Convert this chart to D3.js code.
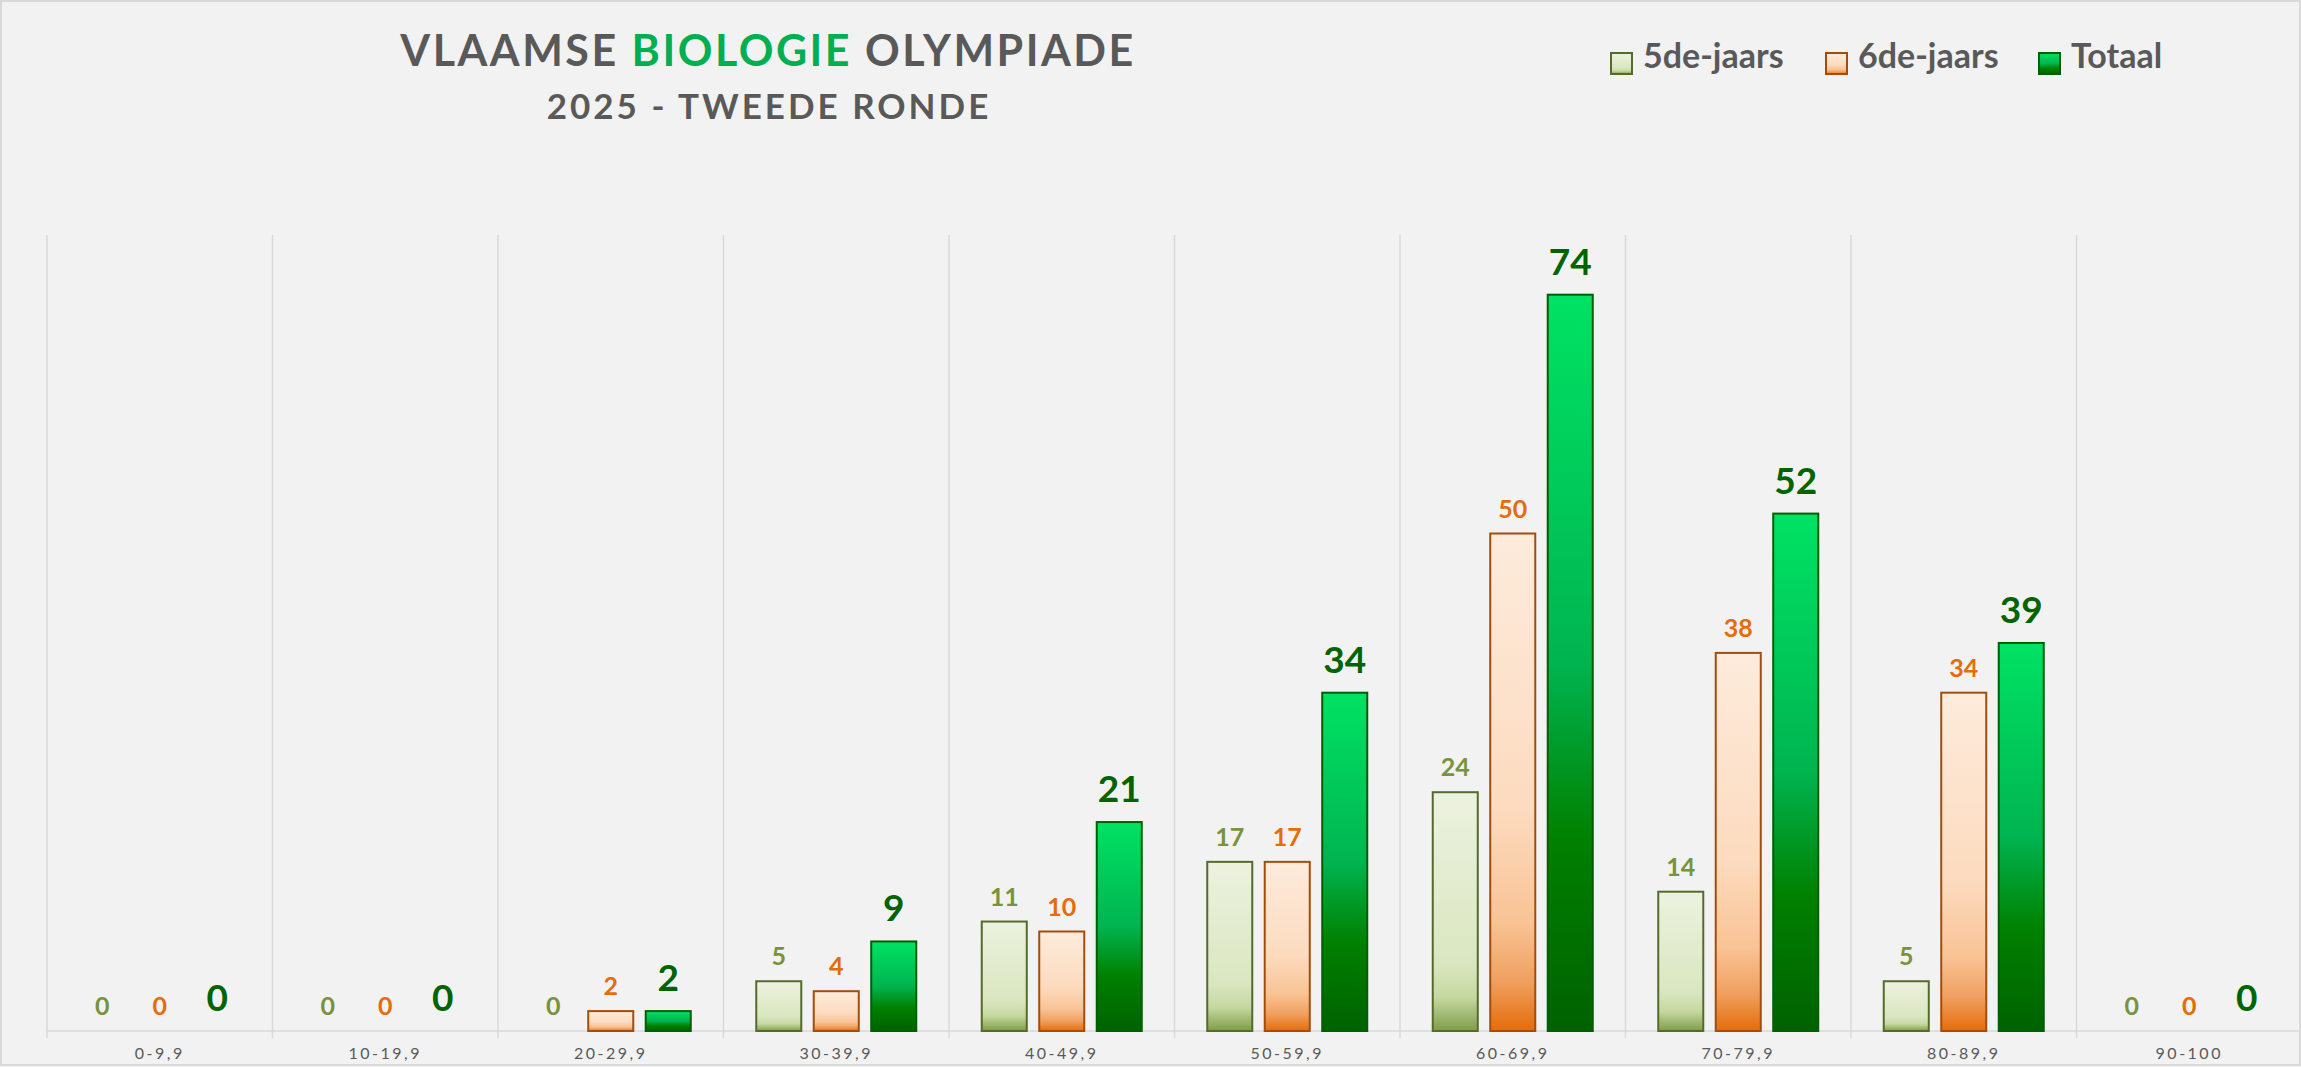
<!DOCTYPE html>
<html>
<head>
<meta charset="utf-8">
<script src="https://cdn.jsdelivr.net/npm/d3@7"></script>
<style>
  html, body { margin: 0; padding: 0; background: #f2f2f2; }
  svg { display: block; font-family: Lato, "Open Sans", sans-serif; }
</style>
</head>
<body>
<div id="chart"></div>
<script>
// ---- data ----
const categories = ['0-9,9', '10-19,9', '20-29,9', '30-39,9', '40-49,9', '50-59,9', '60-69,9', '70-79,9', '80-89,9', '90-100'];
const series = ['5de-jaars', '6de-jaars', 'Totaal'];
const vijfde = [0, 0, 0, 5, 11, 17, 24, 14, 5, 0];
const zesde = [0, 0, 2, 4, 10, 17, 50, 38, 34, 0];
const totaal = [0, 0, 2, 9, 21, 34, 74, 52, 39, 0];
const yMax = 80;

const W = 2301, H = 1067;
const plotLeft = 47, plotRight = 2302, plotTop = 235, base = 1031;

const svg = d3.select('#chart').append('svg').attr('width', W).attr('height', H);

// gradients, one per series
const defs = svg.append('defs');
const grads = {
  '5de-jaars': [[0, '#ecf2e0'], [0.72, '#dae6c0'], [0.86, '#c6d8a0'], [1, '#7f9c48']],
  '6de-jaars': [[0, '#fdebdc'], [0.55, '#fcdbbf'], [0.78, '#f9c395'], [0.9, '#f0a060'], [1, '#e46c0a']],
  'Totaal': [[0, '#00e264'], [0.5, '#00b450'], [0.74, '#008000'], [1, '#006200']]
};
const gid = {'5de-jaars': 'g5', '6de-jaars': 'g6', 'Totaal': 'gt'};
Object.keys(grads).forEach(k => {
  const lg = defs.append('linearGradient').attr('id', gid[k])
    .attr('x1', 0).attr('y1', 0).attr('x2', 0).attr('y2', 1);
  grads[k].forEach(s => lg.append('stop').attr('offset', s[0]).attr('stop-color', s[1]));
});
const strokes = {'5de-jaars': '#556b2a', '6de-jaars': '#a24d0c', 'Totaal': '#006000'};
const labelColor = {'5de-jaars': '#77933c', '6de-jaars': '#e46c0a', 'Totaal': '#006400'};
const labelSize = {'5de-jaars': 25, '6de-jaars': 25, 'Totaal': 37};

// background + border
svg.append('rect').attr('x', 1).attr('y', 1).attr('width', W - 2).attr('height', H - 3)
  .attr('fill', '#f2f2f2').attr('stroke', '#d9d9d9').attr('stroke-width', 2);

const x0 = d3.scaleBand().domain(categories).range([plotLeft, plotRight]);
const x1 = d3.scaleBand().domain(series).range([32.75, x0.bandwidth() - 32.75]).paddingInner(0.217);
const y = d3.scaleLinear().domain([0, yMax]).range([base, plotTop]);

// vertical gridlines at category boundaries
const bounds = categories.map(c => x0(c)).concat([plotRight - 2]);
svg.append('g').selectAll('line').data(bounds).join('line')
  .attr('x1', d => d).attr('x2', d => d)
  .attr('y1', y(yMax)).attr('y2', base + 7)
  .attr('stroke', '#d9d9d9').attr('stroke-width', 1.5);

// baseline
svg.append('line').attr('x1', plotLeft).attr('x2', plotRight).attr('y1', base).attr('y2', base)
  .attr('stroke', '#d9d9d9').attr('stroke-width', 1.5);

// x labels
svg.append('g').selectAll('text').data(categories).join('text')
  .attr('x', d => x0(d) + x0.bandwidth() / 2)
  .attr('y', 1059)
  .attr('text-anchor', 'middle')
  .attr('fill', '#595959')
  .style('font-size', '16px')
  .style('letter-spacing', '2.5px')
  .text(d => d);

const rows = categories.map((c, i) => ({
  cat: c,
  vals: [
    {s: '5de-jaars', v: vijfde[i]},
    {s: '6de-jaars', v: zesde[i]},
    {s: 'Totaal', v: totaal[i]}
  ]
}));

const groups = svg.append('g').selectAll('g').data(rows).join('g')
  .attr('transform', d => `translate(${x0(d.cat)},0)`);

groups.selectAll('rect').data(d => d.vals.filter(e => e.v > 0)).join('rect')
  .attr('x', d => x1(d.s))
  .attr('y', d => y(d.v))
  .attr('width', x1.bandwidth())
  .attr('height', d => base - y(d.v))
  .attr('fill', d => `url(#${gid[d.s]})`)
  .attr('stroke', d => strokes[d.s])
  .attr('stroke-width', 2);

groups.selectAll('text').data(d => d.vals).join('text')
  .attr('x', d => x1(d.s) + x1.bandwidth() / 2)
  .attr('y', d => y(d.v) - (d.s === 'Totaal' ? 20 : 16))
  .attr('text-anchor', 'middle')
  .attr('fill', d => labelColor[d.s])
  .style('font-size', d => labelSize[d.s] + 'px')
  .style('font-weight', 'bold')
  .text(d => d.v);

// title
const title = svg.append('text').attr('x', 768).attr('y', 66)
  .attr('text-anchor', 'middle')
  .attr('fill', '#595959')
  .style('font-size', '43px').style('font-weight', 'bold').style('letter-spacing', '2.5px');
title.append('tspan').text('VLAAMSE ');
title.append('tspan').attr('fill', '#00b050').text('BIOLOGIE');
title.append('tspan').text(' OLYMPIADE');

svg.append('text').attr('x', 769).attr('y', 119)
  .attr('text-anchor', 'middle')
  .attr('fill', '#595959')
  .style('font-size', '35px').style('font-weight', 'bold').style('letter-spacing', '3px')
  .text('2025 - TWEEDE RONDE');

// legend
const legendX = [1611, 1826, 2039];
const legend = svg.append('g').selectAll('g').data(series).join('g')
  .attr('transform', (d, i) => `translate(${legendX[i]},53)`);
legend.append('rect').attr('width', 21).attr('height', 21)
  .attr('fill', d => `url(#${gid[d]})`)
  .attr('stroke', d => strokes[d]).attr('stroke-width', 2);
legend.append('text').attr('x', 32).attr('y', 15)
  .attr('fill', '#595959')
  .style('font-size', '34px').style('font-weight', 'bold')
  .text(d => d);
</script>
</body>
</html>
